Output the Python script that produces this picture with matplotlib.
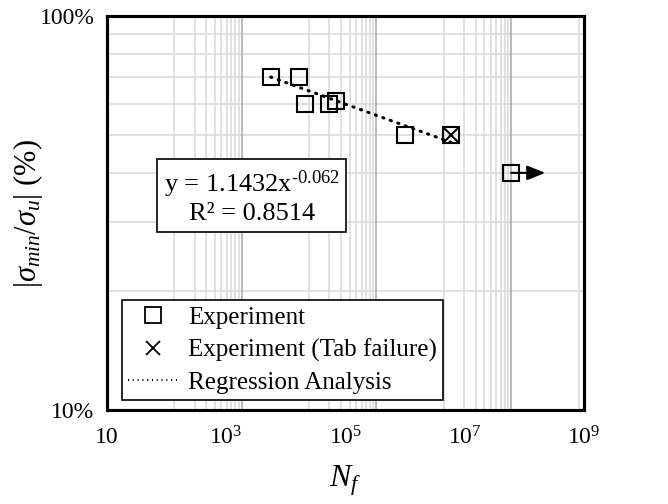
import matplotlib
matplotlib.use('Agg')
import matplotlib.pyplot as plt
from matplotlib.ticker import FixedLocator, NullFormatter, NullLocator
from matplotlib.lines import Line2D
import numpy as np

plt.rcParams['font.family'] = ['Liberation Serif', 'DejaVu Serif']
plt.rcParams['mathtext.fontset'] = 'custom'
plt.rcParams['mathtext.rm'] = 'Liberation Serif'
plt.rcParams['mathtext.it'] = 'Liberation Serif:italic'

# cycles to failure and normalised min stress
nf = [2700, 7000, 8700, 20000, 25000, 2.64e5, 1.27e6]
smin = [0.70, 0.70, 0.60, 0.60, 0.61, 0.50, 0.50]
tab_nf = [1.27e6]
tab_smin = [0.50]
runout_nf = [1.0e7]
runout_smin = [0.40]

fit_a = 1.1432
fit_b = -0.062
fit_r2 = 0.8514

xticks = [10, 1e3, 1e5, 1e7, 1e9]
xticklabels = ['10', '$10^{3}$', '$10^{5}$', '$10^{7}$', '$10^{9}$']
yticks = [0.1, 1.0]
yticklabels = ['10%', '100%']

fig = plt.figure(figsize=(6.68, 5.04), dpi=100)
ax = fig.add_axes([0.160, 0.1865, 0.714, 0.7815])
ax.set_xscale('log')
ax.set_yscale('log')
ax.set_xlim(10, 1e9)
ax.set_ylim(0.1, 1.0)
ax.xaxis.set_major_locator(FixedLocator(xticks))
ax.set_xticklabels(xticklabels)
ax.xaxis.set_minor_locator(NullLocator())
ax.yaxis.set_major_locator(FixedLocator(yticks))
ax.set_yticklabels(yticklabels)
ax.yaxis.set_minor_locator(FixedLocator(np.arange(0.2, 1.0, 0.1)))
ax.yaxis.set_minor_formatter(NullFormatter())
ax.tick_params(which='both', length=0, labelsize=17)
ax.tick_params(axis='x', pad=12)
ax.tick_params(axis='y', pad=9)
ax.grid(True, axis='y', which='minor', color='#d9d9d9', lw=1.1)
for s in ax.spines.values():
    s.set_linewidth(2.2)
ax.set_xlabel('$N_f$', fontsize=23)
ax.xaxis.set_label_coords(0.5, -0.135)
ax.set_ylabel(r'$|\sigma_{min}/\sigma_u|$ (%)', fontsize=22)
ax.yaxis.set_label_coords(-0.13, 0.5)

# data sits on a hidden secondary x axis
ax2 = ax.twiny()
ax2.set_xscale('log')
ax2.set_xlim(10, 10 ** (1 + 477 / 67.4))
ax2.set_ylim(0.1, 1.0)
ax2.xaxis.set_major_locator(FixedLocator([10, 1e3, 1e5, 1e7]))
ax2.xaxis.set_minor_locator(FixedLocator([k * 10.0 ** e for e in (2, 4, 6, 8) for k in range(1, 10)]))
ax2.xaxis.set_major_formatter(NullFormatter())
ax2.xaxis.set_minor_formatter(NullFormatter())
ax2.tick_params(which='both', length=0)
ax2.grid(True, axis='x', which='minor', color='#d9d9d9', lw=1.1)
ax2.grid(True, axis='x', which='major', color='#a6a6a6', lw=1.1)
for s in ax2.spines.values():
    s.set_linewidth(2.2)

xf = np.logspace(np.log10(min(nf)), np.log10(max(nf)), 60)
ax2.plot(xf, fit_a * xf ** fit_b, color='black', lw=2.2, linestyle=(0, (0.4, 2.2)),
         dash_capstyle='round')
ax2.plot(nf + runout_nf, smin + runout_smin, 's', ms=12, mfc='none', mec='black', mew=1.5)
ax2.plot(tab_nf, tab_smin, 'x', ms=11, color='black', mew=1.5)
ax2.annotate('', xy=(3.2e7, runout_smin[0]), xytext=(runout_nf[0], runout_smin[0]),
             arrowprops=dict(arrowstyle='-|>,head_length=1.0,head_width=0.4', color='black',
                             lw=1.5, shrinkA=0, shrinkB=0, mutation_scale=11))

ax2.text(0.304, 0.541, 'y = %.4fx$^{\u2010%.3f}$\nR² = %.4f' % (fit_a, abs(fit_b), fit_r2),
         transform=ax2.transAxes, ha='center', va='center', fontsize=19,
         multialignment='center',
         bbox=dict(boxstyle='square,pad=0.25', fc='white', ec='black', lw=1.2))

handles = [
    Line2D([], [], ls='none', marker='s', ms=11, mfc='none', mec='black', mew=1.3),
    Line2D([], [], ls='none', marker='x', ms=10, color='black', mew=1.3),
    Line2D([], [], color='black', lw=1.5, linestyle=(0, (0.5, 1.8))),
]
leg = ax2.legend(handles, ['Experiment', 'Experiment (Tab failure)', 'Regression Analysis'],
                 loc='lower left', bbox_to_anchor=(0.031, 0.025), borderaxespad=0,
                 fontsize=18, frameon=True, fancybox=False, framealpha=1,
                 handlelength=2.0, handletextpad=0.4, borderpad=0.25, labelspacing=0.38)
leg.get_frame().set_edgecolor('black')
leg.get_frame().set_linewidth(1.2)

fig.savefig('out.png', dpi=100)
